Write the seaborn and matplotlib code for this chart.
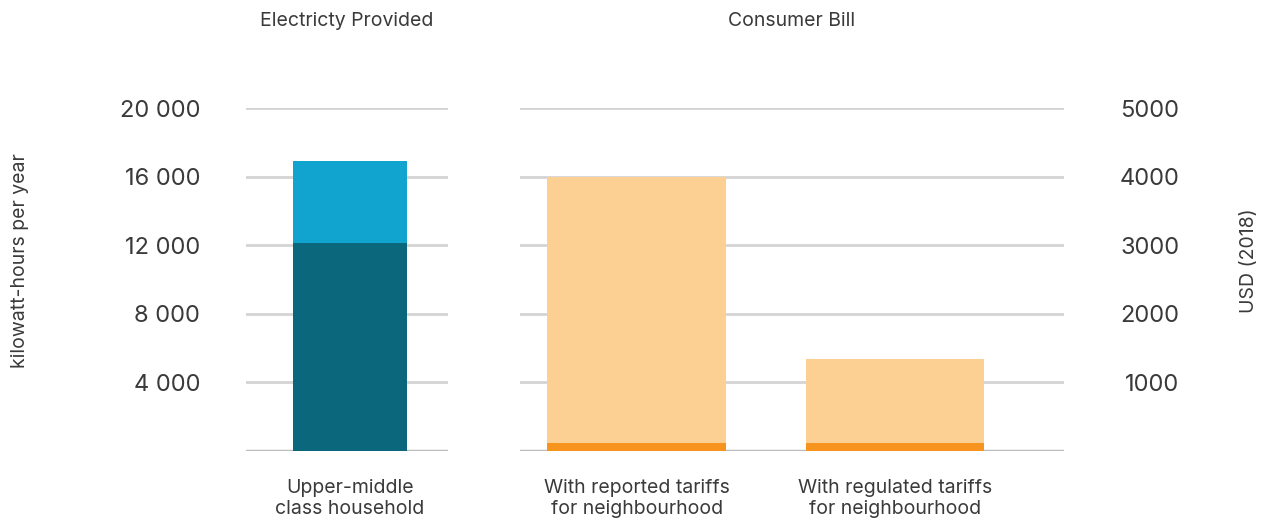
import numpy as np
import pandas as pd
import matplotlib.pyplot as plt
import seaborn as sns

# 전력 공급량 (kWh / 년)
elec_cats = ["Upper-middle\nclass household"]
elec_total = [16900]
elec_base = [12150]

# 소비자 요금 (USD 2018)
bill_cats = ["With reported tariffs\nfor neighbourhood", "With regulated tariffs\nfor neighbourhood"]
bill_total = [4000, 1340]
bill_base = [120, 120]

left_ticks = [4000, 8000, 12000, 16000, 20000]
left_labels = ["4 000", "8 000", "12 000", "16 000", "20 000"]
right_ticks = [1000, 2000, 3000, 4000, 5000]
right_labels = ["1000", "2000", "3000", "4000", "5000"]

sns.set_theme(style="white")
plt.rcParams['font.family'] = ['Inter', 'DejaVu Sans']
txt = '#3a3a3a'
grid_c = '#d4d4d4'

fig = plt.figure(figsize=(12.64, 5.21), dpi=100)
ax1 = fig.add_axes([0.1946, 0.1344, 0.1598, 0.6583])
ax2 = fig.add_axes([0.4114, 0.1344, 0.4304, 0.6583])

df1 = pd.DataFrame({"cat": elec_cats, "total": elec_total, "base": elec_base})
df2 = pd.DataFrame({"cat": bill_cats, "total": bill_total, "base": bill_base})

for ax, ticks in [(ax1, left_ticks), (ax2, right_ticks)]:
    for t in ticks:
        ax.axhline(t, color=grid_c, lw=2.0, zorder=0)
    ax.axhline(0, color='#bdbdbd', lw=2.5, zorder=0)

sns.barplot(data=df1, x="cat", y="total", color="#11a4cf", width=0.564,
            saturation=1, linewidth=0, ax=ax1, zorder=2)
sns.barplot(data=df1, x="cat", y="base", color="#0b687c", width=0.564,
            saturation=1, linewidth=0, ax=ax1, zorder=3)
sns.barplot(data=df2, x="cat", y="total", color="#fbd092", width=0.69,
            saturation=1, linewidth=0, ax=ax2, zorder=2)
sns.barplot(data=df2, x="cat", y="base", color="#f7941d", width=0.69,
            saturation=1, linewidth=0, ax=ax2, zorder=3)

ax1.set_xlim(-0.515, 0.485)
ax1.set_ylim(0, 20000)
ax2.set_xlim(-0.451, 1.654)
ax2.set_ylim(0, 5000)

for ax in (ax1, ax2):
    for s in ax.spines.values():
        s.set_visible(False)
    ax.set_xlabel("")
    ax.set_ylabel("")
    ax.tick_params(axis='x', length=0, pad=20, labelsize=14, labelcolor=txt)
    ax.patch.set_alpha(0)

ax1.set_yticks(left_ticks)
ax1.set_yticklabels(left_labels)
ax1.tick_params(axis='y', length=0, pad=33, labelsize=17, labelcolor=txt)

ax2.set_yticks(right_ticks)
ax2.yaxis.tick_right()
ax2.set_yticklabels(right_labels, ha='right')
ax2.tick_params(axis='y', length=0, pad=83, labelsize=17, labelcolor=txt,
                left=False, labelleft=False, right=False, labelright=True)

ax1.set_title("Electricty Provided", fontsize=14, color=txt, pad=59)
ax2.set_title("Consumer Bill", fontsize=14, color=txt, pad=59)

fig.text(0.016, 0.50, "kilowatt-hours per year", rotation=90, fontsize=14,
         color=txt, ha='center', va='center')
fig.text(0.988, 0.50, "USD (2018)", rotation=90, fontsize=14,
         color=txt, ha='center', va='center')

fig.savefig("out.png", dpi=100)
